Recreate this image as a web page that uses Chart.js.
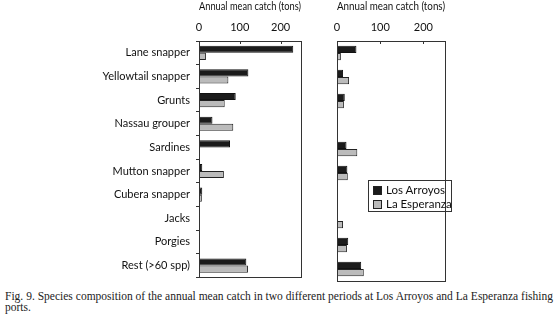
<!DOCTYPE html>
<html>
<head>
  <title>Annual mean catch</title>
  <script src="https://cdn.jsdelivr.net/npm/chart.js"></script>
  <style>
    body { margin: 0; background: #fff; width: 558px; height: 330px; position: relative; overflow: hidden; }
    .panel { position: absolute; top: 0; height: 290px; }
    #legend { position: absolute; left: 368px; top: 180px; width: 84px; height: 32px; border: 1px solid #333;
      font: 11.5px Lato, sans-serif; color: #111; box-sizing: border-box; padding: 2px 0 0 4px; }
    #legend div { height: 14px; line-height: 14px; white-space: nowrap; }
    #legend span { display: inline-block; width: 7px; height: 7px; border: 1px solid #222; margin-right: 4px; vertical-align: -1px; }
    .cap { position: absolute; left: 5px; width: 548px; font: 11.5px "Liberation Serif", serif; color: #222; }
  </style>
</head>
<body>
  <div class="panel" style="left:0;width:312px"><canvas id="leftChart"></canvas></div>
  <div class="panel" style="left:320px;width:140px"><canvas id="rightChart"></canvas></div>
  <div id="legend"></div>
  <div class="cap" style="top:290px;text-align:justify;text-align-last:justify">Fig. 9. Species composition of the annual mean catch in two different periods at Los Arroyos and La Esperanza fishing</div>
  <div class="cap" style="top:301px">ports.</div>

  <script>
    // species, top to bottom
    const categories = ['Lane snapper', 'Yellowtail snapper', 'Grunts', 'Nassau grouper', 'Sardines',
      'Mutton snapper', 'Cubera snapper', 'Jacks', 'Porgies', 'Rest (>60 spp)'];
    const seriesNames = ['Los Arroyos', 'La Esperanza'];

    // first period (left panel)
    const leftArroyos = [231, 121, 90, 33, 76, 8, 8, 2, null, 116];
    const leftEsperanza = [17, 72, 63, 84, null, 61, 7, null, null, 120];
    // second period (right panel)
    const rightArroyos = [45, 14, 18, null, 22, 24, null, 2, 26, 56];
    const rightEsperanza = [9, 28, 16, null, 47, 25, null, 14, 23, 62];

    const tickValues = [0, 100, 200];
    const axisTitle = 'Annual mean catch (tons)';
    const colors = ['#1b1b1b', '#bbbbbb'];

    const font = { family: 'Lato, sans-serif', size: 11 };

    // box round the plot + short inward ticks on the top axis
    const framePlugin = {
      id: 'frame',
      afterDraw(chart) {
        const a = chart.chartArea, c = chart.ctx, x = chart.scales.x;
        c.save();
        c.strokeStyle = '#333';
        c.lineWidth = 1;
        c.strokeRect(Math.round(a.left) + 0.5, Math.round(a.top) + 0.5, Math.round(a.right - a.left), Math.round(a.bottom - a.top));
        c.beginPath();
        tickValues.slice(1).forEach(v => {
          const px = Math.round(x.getPixelForValue(v)) + 0.5;
          c.moveTo(px, a.top);
          c.lineTo(px, a.top + 3);
        });
        c.stroke();
        c.restore();
      }
    };

    function makeChart(id, a, b, yWidth, padRight, showLabels) {
      return new Chart(document.getElementById(id), {
        type: 'bar',
        data: {
          labels: categories,
          datasets: [
            { label: seriesNames[0], data: a, backgroundColor: colors[0], borderColor: '#111', borderWidth: 1 },
            { label: seriesNames[1], data: b, backgroundColor: colors[1], borderColor: '#222', borderWidth: 1 }
          ]
        },
        options: {
          indexAxis: 'y',
          responsive: true,
          maintainAspectRatio: false,
          animation: false,
          layout: { padding: { left: 0, right: padRight, top: 0, bottom: 9 } },
          datasets: { bar: { barPercentage: 1, categoryPercentage: 0.6, borderSkipped: false } },
          plugins: { legend: { display: false }, tooltip: { enabled: false } },
          scales: {
            x: {
              position: 'top',
              min: 0,
              max: 250,
              afterBuildTicks: s => { s.ticks = tickValues.map(v => ({ value: v })); },
              afterFit: s => { s.height = 41; },
              grid: { display: false, drawTicks: false },
              border: { display: false },
              ticks: { padding: 7, color: '#111', font: font, maxRotation: 0 },
              title: { display: true, text: axisTitle, color: '#111', font: font, padding: 0 }
            },
            y: {
              afterFit: s => { s.width = yWidth; },
              grid: { display: showLabels, drawOnChartArea: false, tickLength: 3, color: '#333' },
              border: { display: false },
              ticks: { display: showLabels, padding: 6, color: '#111', font: font }
            }
          }
        },
        plugins: [framePlugin]
      });
    }

    makeChart('leftChart', leftArroyos, leftEsperanza, 199, 11, true);
    makeChart('rightChart', rightArroyos, rightEsperanza, 17, 15, false);

    // legend box inside the right panel
    document.getElementById('legend').innerHTML = seriesNames
      .map((n, i) => `<div><span style="background:${colors[i]}"></span>${n}</div>`).join('');
  </script>
</body>
</html>
